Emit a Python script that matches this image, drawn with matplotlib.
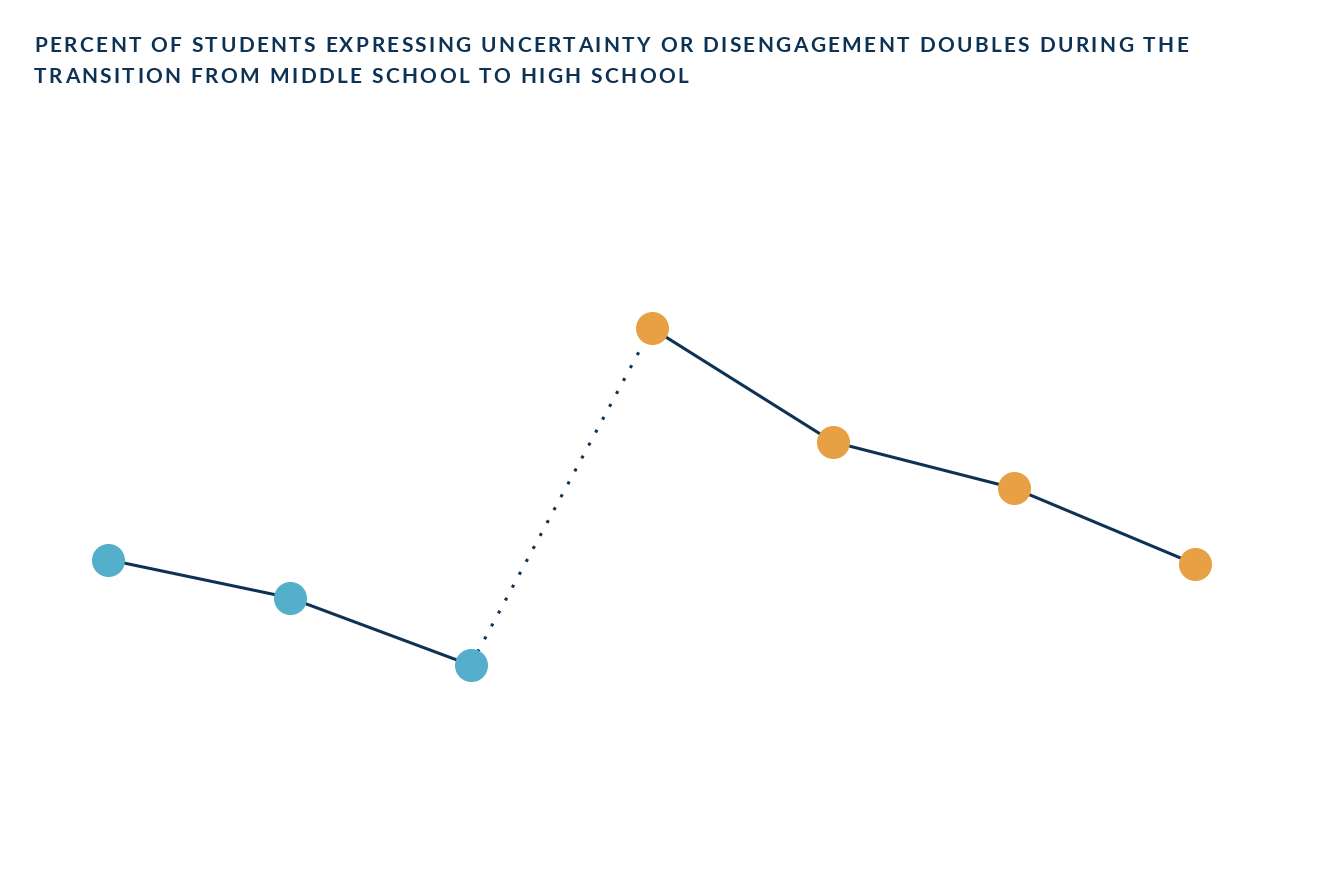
import numpy as np
import matplotlib.pyplot as plt
from matplotlib.font_manager import FontProperties, findfont, get_font
from matplotlib import _text_helpers

# estimated percentages (no axis shown in the original)
grades = [6, 7, 8, 9, 10, 11, 12]
middle_vals = [21.0, 19.2, 16.0]
high_vals = [32.0, 26.6, 24.4, 20.8]

title_lines = ["PERCENT OF STUDENTS EXPRESSING UNCERTAINTY OR DISENGAGEMENT DOUBLES DURING THE",
               "TRANSITION FROM MIDDLE SCHOOL TO HIGH SCHOOL"]

navy = '#0d3253'
blue = '#53afca'
orange = '#e8a045'

W, H, DPI = 1330, 886, 100
fig = plt.figure(figsize=(W / DPI, H / DPI), dpi=DPI)
ax = fig.add_axes([0, 0, 1, 1])

x_mid = grades[:3]
x_high = grades[3:]

ax.plot(x_mid, middle_vals, color=navy, lw=2.2, zorder=1)
ax.plot(x_high, high_vals, color=navy, lw=2.2, zorder=1)
ax.plot([x_mid[-1], x_high[0]], [middle_vals[-1], high_vals[0]],
        color=navy, lw=2.2, linestyle=(0, (1, 3.8)), zorder=1)

ax.plot(x_mid, middle_vals, 'o', color=blue, ms=23.8, mew=0, zorder=2)
ax.plot(x_high, high_vals, 'o', color=orange, ms=23.8, mew=0, zorder=2)

ax.set_xlim(grades[0] - 0.599, grades[0] + 6.746)
ax.set_ylim(5.51, 47.58)
ax.axis('off')

# title with letter spacing: place each character along the line
fsize = 15
prop = FontProperties(family='Lato', weight='bold', size=fsize)
font = get_font(findfont(prop))
font.set_size(fsize, DPI)
x0 = 34
line1_right = 1188  # where the first line ends in the original
baselines = [52, 83]

items1 = list(_text_helpers.layout(title_lines[0], font))
last = items1[-1]
glyph = font.load_glyph(last.glyph_idx)
natural = last.x + glyph.linearHoriAdvance / 65536
track = (line1_right - x0 - natural) / (len(items1) - 1)

for line, base in zip(title_lines, baselines):
    items = list(_text_helpers.layout(line, font))
    for i, it in enumerate(items):
        if it.char == ' ':
            continue
        fig.text((x0 + it.x + i * track) / W, 1 - base / H, it.char,
                 ha='left', va='baseline', color=navy, fontproperties=prop)

fig.savefig('out.png', dpi=DPI, facecolor='white')
